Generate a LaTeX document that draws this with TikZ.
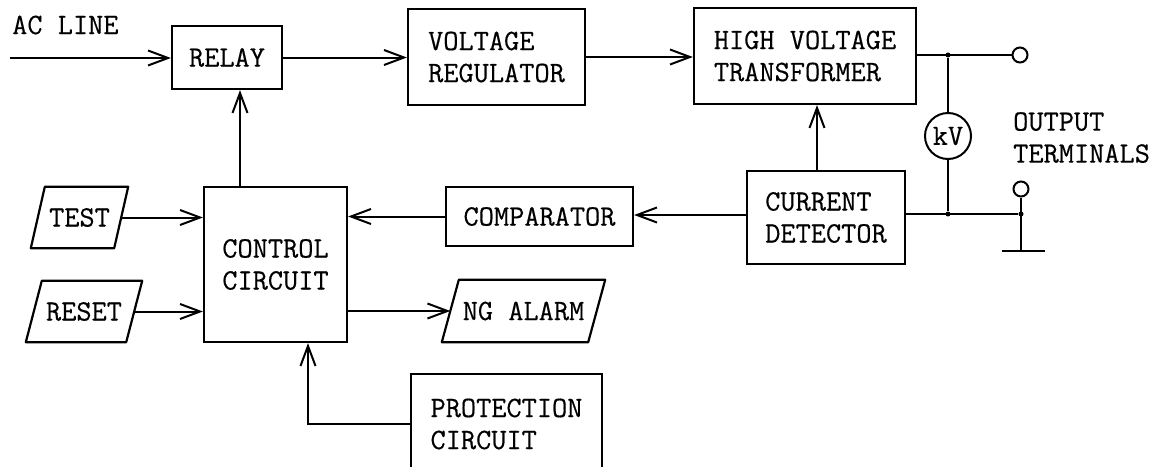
\documentclass[tikz,border=0pt]{standalone}
\usepackage{fontspec}
\newfontfamily\diagfont[FakeBold=0.4]{Latin Modern Mono}
\usetikzlibrary{arrows.meta,calc}
\begin{document}
\begin{tikzpicture}[x=1pt,y=-1pt,
  every node/.style={font=\diagfont\fontsize{29.5}{32}\selectfont, inner sep=0pt},
  blk/.style={draw, line width=2.2pt, align=left},
  ln/.style={line width=2pt},
  arr/.style={line width=2pt, -{Straight Barb[length=20pt,width=15pt,line width=2pt]}},
  term/.style={draw, circle, line width=2pt, minimum size=15pt},
  pgram/.style={line width=2.2pt, line join=round},
  dot/.style={fill, circle, minimum size=5pt}]
\useasboundingbox (0,0) rectangle (1162,466);
\begin{scope}
\clip (0,0) rectangle (1162,466);
% blocks
\node[blk, minimum width=110pt, minimum height=63pt] (relay) at (227,57.5) {RELAY};
\node[blk, minimum width=177pt, minimum height=96pt] (vr) at (496.5,57) {VOLTAGE\\REGULATOR};
\node[blk, minimum width=222pt, minimum height=96pt] (hvt) at (805,56) {HIGH VOLTAGE\\TRANSFORMER};
\node[blk, minimum width=158pt, minimum height=93pt] (cd) at (826,217.5) {CURRENT\\DETECTOR};
\node[blk, minimum width=187pt, minimum height=59pt] (comp) at (539.5,216.5) {COMPARATOR};
\node[blk, minimum width=143pt, minimum height=155pt] (cc) at (275.5,264.5) {CONTROL\\CIRCUIT};
\node[blk, minimum width=191pt, minimum height=100pt] (prot) at (506.5,424) {PROTECTION\\CIRCUIT};
% parallelograms
\node[minimum width=97pt, minimum height=61pt] (test) at (79.5,217.5) {TEST};
\draw[pgram] (test.south west) -- ($(test.north west)+(14,0)$) -- (test.north east) -- ($(test.south east)-(14,0)$) -- cycle;
\node[minimum width=116pt, minimum height=61pt] (reset) at (84,311.5) {RESET};
\draw[pgram] (reset.south west) -- ($(reset.north west)+(16,0)$) -- (reset.north east) -- ($(reset.south east)-(16,0)$) -- cycle;
\node[minimum width=163pt, minimum height=62pt] (ng) at (523.5,311) {NG ALARM};
\draw[pgram] (ng.south west) -- ($(ng.north west)+(17,0)$) -- (ng.north east) -- ($(ng.south east)-(17,0)$) -- cycle;
% labels
\node[anchor=base west] (acl) at (12,34) {AC LINE};
\node[anchor=north west, align=left] (outl) at (1013,112) {OUTPUT\\TERMINALS};
% output section
\node[term] (t1) at (1020,55) {};
\node[term] (t2) at (1021,189) {};
\node[draw, circle, line width=2pt, minimum size=46pt] (kv) at (948,136) {kV};
\node[dot] (j1) at (948,55) {};
\node[dot] (j2) at (948,214) {};
\node[dot] (j3) at (1021,214) {};
\coordinate (gnd) at (1021,251);
\coordinate (g1) at (1002,251);
\coordinate (g2) at (1045,251);
% helper coordinates
\coordinate (acin) at (10,58);
\coordinate (xrel) at (240,0);
\coordinate (xcd) at (817,0);
\coordinate (ycd) at (0,215);
\coordinate (xpr) at (308,0);
% connectors
\draw[arr] (acin) -- (acin -| relay.west);
\draw[arr] (relay.east) -- (relay.east -| vr.west);
\draw[arr] (vr.east) -- (vr.east -| hvt.west);
\draw[ln] (hvt.east |- j1) -- (t1.west);
\draw[ln] (j1) -- (kv.north);
\draw[ln] (kv.south) -- (j2);
\draw[ln] (cd.east |- j2) -- (j3);
\draw[ln] (t2.south) -- (gnd);
\draw[ln] (g1) -- (g2);
\draw[arr] (cd.north -| xcd) -- (hvt.south -| xcd);
\draw[arr] (cd.west |- ycd) -- (comp.east |- ycd);
\draw[arr] (comp.west) -- (comp.west -| cc.east);
\draw[arr] ($(test.east)+(-7,0)$) -- (test.east -| cc.west);
\draw[arr] ($(reset.east)+(-8,0)$) -- (reset.east -| cc.west);
\draw[arr] (cc.east |- ng.west) -- ($(ng.west)+(8.5,0)$);
\draw[arr] (prot.west) -| (cc.south -| xpr);
\draw[arr] (cc.north -| xrel) -- (relay.south -| xrel);
\end{scope}
\end{tikzpicture}
\end{document}
